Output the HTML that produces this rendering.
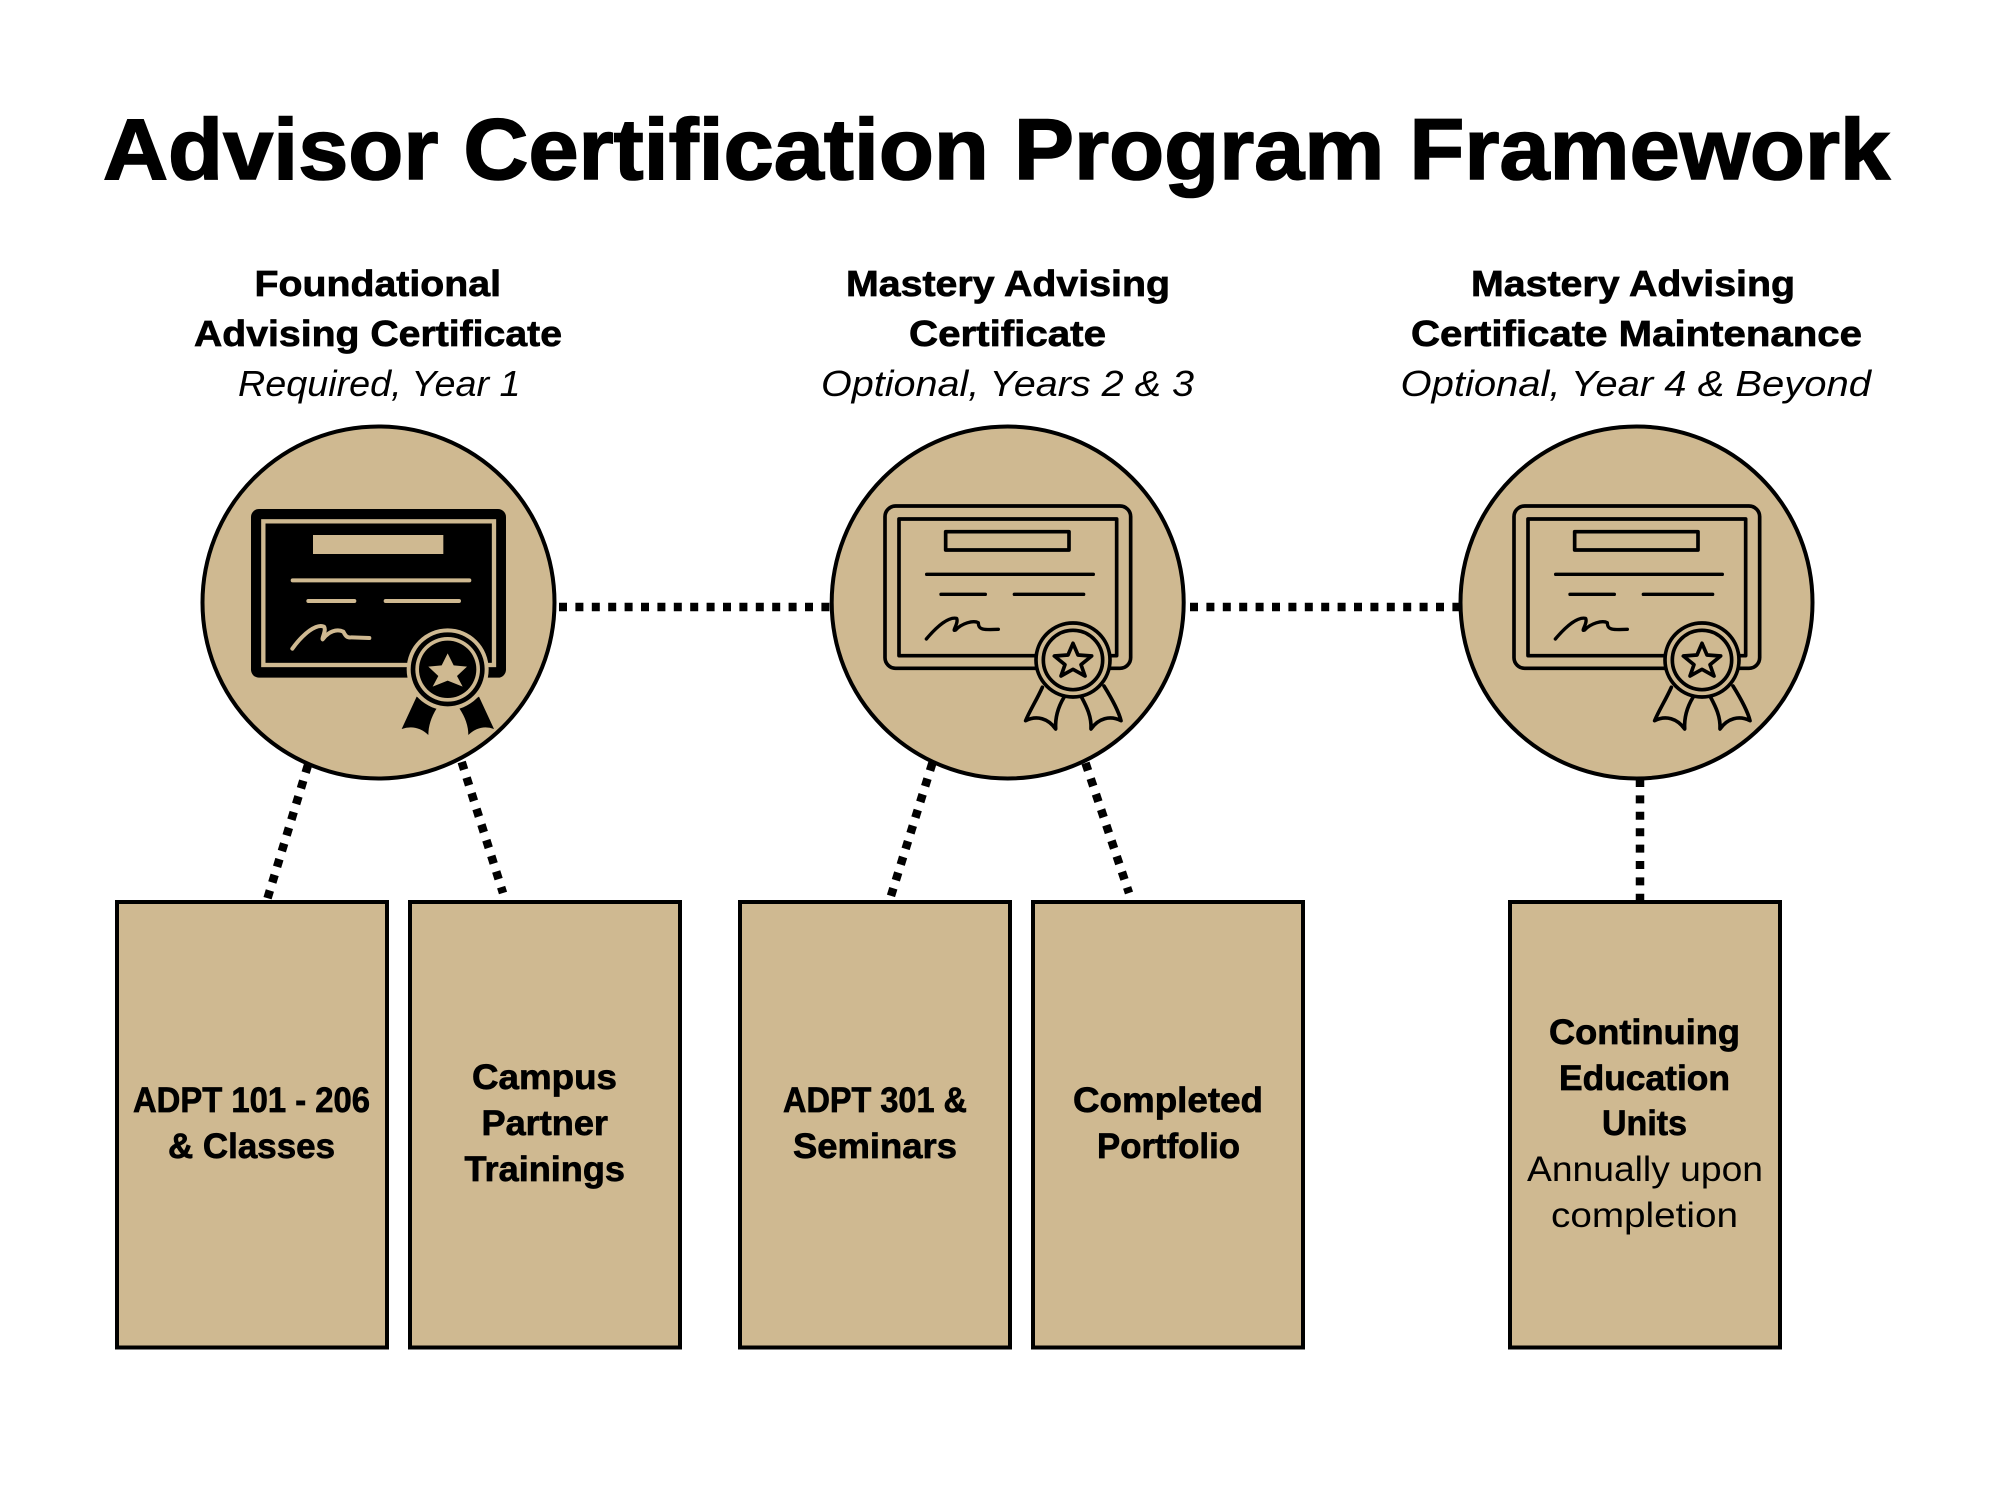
<!DOCTYPE html>
<html><head><meta charset="utf-8"><style>
html,body{margin:0;padding:0;background:#fff;width:2000px;height:1500px;overflow:hidden}
svg{display:block}
text{font-family:"Liberation Sans",sans-serif;fill:#000}
.b{font-weight:700;font-size:36px;stroke:#000;stroke-width:.7px}
.c{font-weight:700;font-size:35px;stroke:#000;stroke-width:.7px}
.i{font-style:italic;font-size:36px}
.n{font-size:35px}
</style></head><body>
<svg width="2000" height="1500" viewBox="0 0 2000 1500" xmlns="http://www.w3.org/2000/svg">
<defs>
<g id="outline" fill="none" stroke="#000" stroke-width="11" stroke-linecap="round" stroke-linejoin="round">
<rect x="225" y="318" width="737" height="487" rx="32"/>
<rect x="267" y="357" width="653" height="410"/>
<rect x="407" y="395" width="370" height="55"/>
<path d="M350 523H850M393 583H526M613 583H821" stroke-width="10"/>
<path d="M349 717C380 680 415 650 440 655C447 670 423 697 437 690C455 670 490 660 505 668C505 690 520 690 565 688" stroke-width="10"/>
<path d="M697 862C680 900 660 930 647 962C680 945 715 955 737 987C735 950 745 920 762 892" fill="#CFB991"/>
<path d="M882 858C905 895 925 930 933 962C900 945 865 955 843 987C845 950 830 920 815 892" fill="#CFB991"/>
<circle cx="789" cy="780" r="111" fill="#CFB991"/>
<circle cx="789" cy="780" r="89"/>
<path d="M789 730L804 765L845 768L813 794L825 828L789 808L753 828L765 794L733 768L774 765Z"/>
</g>
</defs>

<text x="103" y="179" font-size="86" font-weight="700" stroke="#000" stroke-width="1.6" textLength="1787" lengthAdjust="spacingAndGlyphs">Advisor Certification Program Framework</text>

<text class="b" x="254.5" y="296" textLength="246.5" lengthAdjust="spacingAndGlyphs">Foundational</text>
<text class="b" x="194" y="346" textLength="368" lengthAdjust="spacingAndGlyphs">Advising Certificate</text>
<text class="i" x="238" y="396" textLength="282.5" lengthAdjust="spacingAndGlyphs">Required, Year 1</text>
<text class="b" x="846" y="296" textLength="324" lengthAdjust="spacingAndGlyphs">Mastery Advising</text>
<text class="b" x="909" y="346" textLength="197" lengthAdjust="spacingAndGlyphs">Certificate</text>
<text class="i" x="821" y="396" textLength="373" lengthAdjust="spacingAndGlyphs">Optional, Years 2 &amp; 3</text>
<text class="b" x="1471" y="296" textLength="324" lengthAdjust="spacingAndGlyphs">Mastery Advising</text>
<text class="b" x="1411" y="346" textLength="451" lengthAdjust="spacingAndGlyphs">Certificate Maintenance</text>
<text class="i" x="1400.5" y="396" textLength="470.5" lengthAdjust="spacingAndGlyphs">Optional, Year 4 &amp; Beyond</text>

<g stroke="#000" stroke-width="8.5" fill="none" stroke-dasharray="8 8.4">
<path d="M559 607H832"/>
<path d="M1190 607H1462"/>
<path d="M308 765L267 900"/>
<path d="M461.700 762L503 893"/>
<path d="M932.400 763L890 899"/>
<path d="M1085.500 763L1129 893"/>
<path d="M1640 779V902"/>
</g>

<g fill="#CFB991" stroke="#000" stroke-width="4">
<circle cx="378.500" cy="602.500" r="176"/>
<circle cx="1007.700" cy="602.500" r="176"/>
<circle cx="1636.500" cy="602.500" r="176"/>
<rect x="117" y="902" width="270" height="445.500"/>
<rect x="410" y="902" width="270" height="445.500"/>
<rect x="740" y="902" width="270" height="445.500"/>
<rect x="1033" y="902" width="270" height="445.500"/>
<rect x="1510" y="902" width="270" height="445.500"/>
</g>

<g transform="translate(180,400) scale(.33333)">
<rect x="213" y="327" width="765" height="506" rx="24" fill="#000"/>
<rect x="250" y="364" width="692" height="431" fill="none" stroke="#CFB991" stroke-width="13"/>
<rect x="399" y="405" width="391" height="57" fill="#CFB991"/>
<path d="M338 541H868M385 603H523M617 603H837" stroke="#CFB991" stroke-width="12" stroke-linecap="round" fill="none"/>
<path d="M337 746C370 700 410 670 432 680C440 690 425 715 428 718C445 695 470 685 490 695C495 705 500 715 515 712L568 714" stroke="#CFB991" stroke-width="12" stroke-linecap="round" stroke-linejoin="round" fill="none"/>
<path d="M710 890L665 987Q710 972 745 1005Q745 965 770 925Z"/>
<path d="M897 890L942 987Q900 972 865 1005Q865 965 838 925Z"/>
<circle cx="803" cy="808" r="123" fill="#CFB991"/>
<circle cx="803" cy="808" r="111" fill="#000"/>
<circle cx="803" cy="808" r="97" fill="#CFB991"/>
<circle cx="803" cy="808" r="86" fill="#000"/>
<path d="M803 760L821 796L861 800L831 828L848 860L803 842L758 860L775 828L745 800L785 796Z" fill="#CFB991"/>
</g>
<use href="#outline" transform="translate(810,400) scale(.33333)"/>
<use href="#outline" transform="translate(1439,400) scale(.33333)"/>

<text class="c" x="133" y="1112" textLength="237" lengthAdjust="spacingAndGlyphs">ADPT 101 - 206</text>
<text class="c" x="168" y="1158" textLength="167" lengthAdjust="spacingAndGlyphs">&amp; Classes</text>
<text class="c" x="472" y="1089" textLength="145" lengthAdjust="spacingAndGlyphs">Campus</text>
<text class="c" x="481.500" y="1135" textLength="126.500" lengthAdjust="spacingAndGlyphs">Partner</text>
<text class="c" x="464.500" y="1181" textLength="160.500" lengthAdjust="spacingAndGlyphs">Trainings</text>
<text class="c" x="783" y="1112" textLength="184" lengthAdjust="spacingAndGlyphs">ADPT 301 &amp;</text>
<text class="c" x="793" y="1158" textLength="164" lengthAdjust="spacingAndGlyphs">Seminars</text>
<text class="c" x="1073" y="1112" textLength="190" lengthAdjust="spacingAndGlyphs">Completed</text>
<text class="c" x="1097" y="1158" textLength="143" lengthAdjust="spacingAndGlyphs">Portfolio</text>
<text class="c" x="1549" y="1044" textLength="191" lengthAdjust="spacingAndGlyphs">Continuing</text>
<text class="c" x="1559" y="1090" textLength="171" lengthAdjust="spacingAndGlyphs">Education</text>
<text class="c" x="1602" y="1135" textLength="85" lengthAdjust="spacingAndGlyphs">Units</text>
<text class="n" x="1527" y="1181" textLength="236" lengthAdjust="spacingAndGlyphs">Annually upon</text>
<text class="n" x="1551" y="1227" textLength="187" lengthAdjust="spacingAndGlyphs">completion</text>
</svg>
</body></html>
